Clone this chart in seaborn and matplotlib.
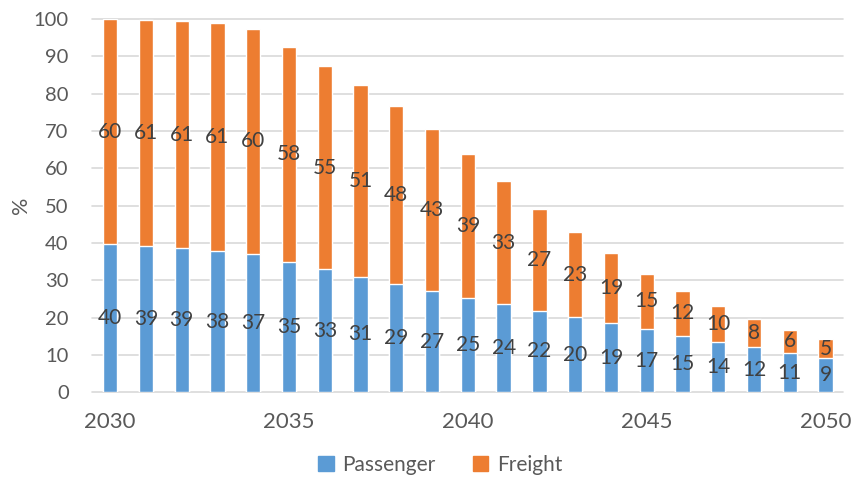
import matplotlib
matplotlib.use("Agg")
import matplotlib.pyplot as plt
import seaborn as sns
import pandas as pd
import numpy as np
from matplotlib.patches import Patch

years = list(range(2030, 2051))
passenger = [39.6, 39.1, 38.6, 37.8, 37.0, 35.0, 32.9, 31.0, 29.1, 27.1, 25.2,
             23.6, 21.9, 20.1, 18.6, 16.9, 15.2, 13.6, 12.1, 10.6, 9.2]
freight = [60.4, 60.7, 60.9, 61.0, 60.4, 57.6, 54.6, 51.3, 47.6, 43.4, 38.6,
           33.0, 27.2, 22.8, 18.6, 14.9, 12.0, 9.6, 7.6, 6.1, 5.0]
xtick_labels = ["2030", "2035", "2040", "2045", "2050"]

blue = "#5B9BD5"
orange = "#ED7D31"
txt = "#404040"
tick_col = "#595959"

sns.set_style("white")
plt.rcParams["font.family"] = ["Lato", "DejaVu Sans"]

df = pd.DataFrame({"year": [str(y) for y in years],
                   "passenger": passenger,
                   "freight": freight})
df["total"] = df["passenger"] + df["freight"]

fig = plt.figure(figsize=(8.53, 4.78), dpi=100)
ax = fig.add_axes([0.1082, 0.1793, 0.8806, 0.7810])

sns.barplot(data=df, x="year", y="total", color=orange, width=0.4,
            saturation=1, ax=ax, zorder=2)
sns.barplot(data=df, x="year", y="passenger", color=blue, width=0.4,
            saturation=1, ax=ax, zorder=3)

# labels
pcont = ax.containers[1]
ax.bar_label(pcont, labels=[f"{v:.0f}" for v in passenger], label_type="center",
             fontsize=15, color=txt, zorder=5)
for i, (p, f) in enumerate(zip(passenger, freight)):
    ax.text(i, p + f / 2, f"{f:.0f}", ha="center", va="center",
            fontsize=15, color=txt, zorder=5)

ax.set_xlim(-0.5, len(years) - 0.5)
ax.set_ylim(0, 100)
ax.set_yticks(np.arange(0, 101, 10))
ax.set_yticklabels([str(v) for v in range(0, 101, 10)], fontsize=14.5, color=tick_col)
tick_pos = [years.index(int(t)) for t in xtick_labels]
ax.set_xticks(tick_pos)
ax.set_xticklabels(xtick_labels, fontsize=16, color=tick_col)
ax.tick_params(axis="both", length=0)
ax.tick_params(axis="y", pad=17)
ax.tick_params(axis="x", pad=14)
ax.set_xlabel("")
ax.set_ylabel("%", fontsize=15.5, color=tick_col)
ax.yaxis.set_label_coords(-0.081, 0.5)

ax.yaxis.grid(True, color="#D9D9D9", linewidth=1.2, zorder=0)
for ln in ax.get_ygridlines():
    ln.set_clip_on(False)
ax.set_axisbelow(True)
for s in ax.spines.values():
    s.set_visible(False)

handles = [Patch(color=blue, label="Passenger"), Patch(color=orange, label="Freight")]
fig.legend(handles=handles, loc="center", bbox_to_anchor=(0.516, 0.028),
           ncol=2, frameon=False, fontsize=15, handlelength=0.75, handleheight=0.75,
           handletextpad=0.4, columnspacing=1.8, labelcolor=tick_col)

fig.savefig("out.png", dpi=100)
